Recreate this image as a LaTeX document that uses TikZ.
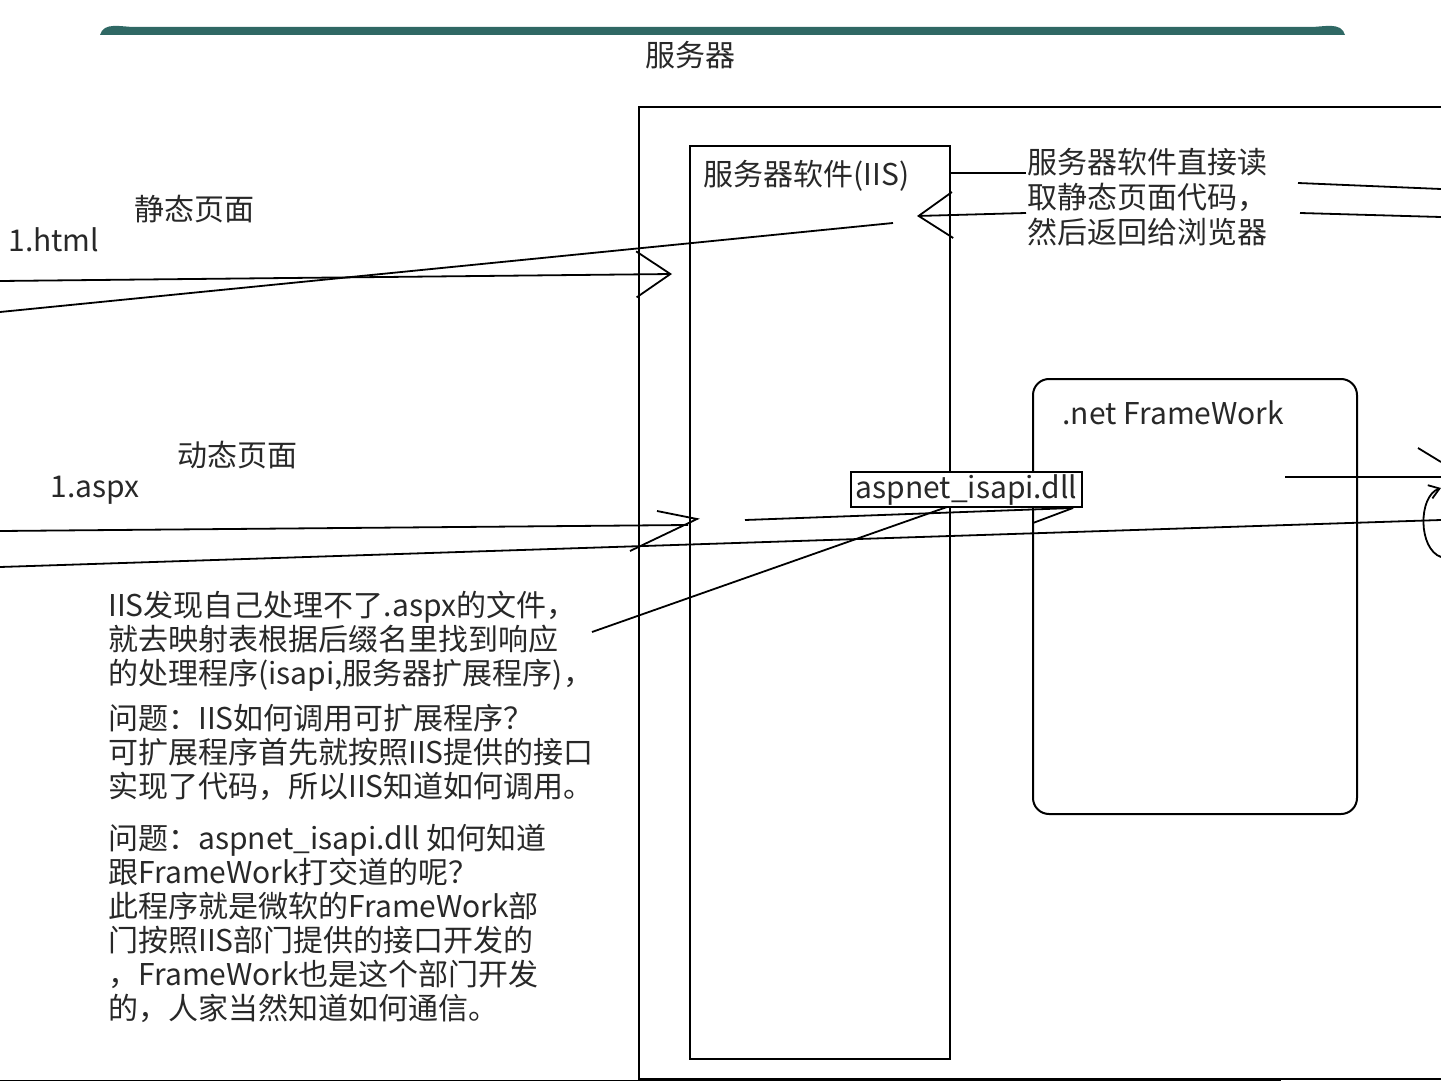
\documentclass[tikz,border=0pt]{standalone}
\usepackage{fontspec}
\setmainfont{Noto Sans CJK SC}
\usetikzlibrary{positioning,arrows.meta}
\definecolor{barteal}{RGB}{47,104,100}
\definecolor{inkgray}{RGB}{40,40,40}
\tikzset{
  boxline/.style={draw=black,line width=1pt,inner sep=0pt},
  wire/.style={draw=black,line width=0.9pt},
  note/.style={font=\fontsize{15pt}{17pt}\selectfont,text=inkgray,align=left,inner sep=0pt},
  barb/.style={-{Straight Barb[length=17pt,width=23pt,line width=0.9pt]}},
}
\begin{document}
\begin{tikzpicture}[x=0.5pt,y=-0.5pt]
\useasboundingbox (0,0) rectangle (1441,1081);
% header bar
\fill[barteal] (100,35) to[out=75,in=180] (135,27) -- (1310,27) to[out=0,in=105] (1345,35) -- cycle;
\node[note] (title) at (690,55) {服务器};

% server, IIS, framework
\node[boxline,anchor=north west,minimum width=430pt,minimum height=486pt] (server) at (638,106) {};
\node[boxline,anchor=north west,minimum width=130pt,minimum height=456.5pt] (iis) at (689,145) {};
\node[boxline,anchor=north west,rounded corners=8pt,minimum width=162pt,minimum height=217.5pt] (netfw) at (1032,378) {};
\node[note,anchor=west] (iislbl) at (703,176) {服务器软件(IIS)};
\node[note,anchor=west] (fwlbl) at (1062,413) {.net FrameWork};
\node[boxline,note,fill=white,minimum width=115.5pt,minimum height=17.5pt] (dll) at (966.5,489.5) {aspnet\_isapi.dll};

% pages
\node[note] (statlbl) at (194,209) {静态页面};
\node[note,anchor=west] (html) at (8,240) {1.html};
\node[note] (dynlbl) at (237,455) {动态页面};
\node[note,anchor=west] (aspx) at (50,490) {1.aspx};

% notes
\node[note,font=\fontsize{15pt}{17.5pt}\selectfont,anchor=west] (readnote) at (1027,197)
  {服务器软件直接读\\取静态页面代码，\\然后返回给浏览器};
\node[note,anchor=west] (note1) at (108,641)
  {IIS发现自己处理不了.aspx的文件，\\就去映射表根据后缀名里找到响应\\的处理程序(isapi,服务器扩展程序)，};
\node[note,anchor=west] (note2) at (108,752)
  {问题：IIS如何调用可扩展程序？\\可扩展程序首先就按照IIS提供的接口\\实现了代码，所以IIS知道如何调用。};
\node[note,anchor=west] (note3) at (108,923)
  {问题：aspnet\_isapi.dll 如何知道\\跟FrameWork打交道的呢？\\此程序就是微软的FrameWork部\\门按照IIS部门提供的接口开发的\\，FrameWork也是这个部门开发\\的，人家当然知道如何通信。};

% static page request / response
\coordinate (sreqL) at (0,281);
\coordinate (sreqR) at (672,274);
\coordinate (sresR) at (893,223);
\coordinate (sresL) at (0,312);
\draw[wire,barb] (sreqL) -- (sreqR);
\draw[wire] (sresR) -- (sresL);
\coordinate (rdA) at (1026,213);
\coordinate (rdB) at (917,216);
\coordinate (readtip) at (1026,173);
\draw[wire,barb] (rdA) -- (rdB);
\draw[wire] (iis.east |- readtip) -- (readtip);
\coordinate (brA) at (1298,183);
\coordinate (brB) at (1441,189);
\coordinate (brC) at (1300,213);
\coordinate (brD) at (1441,217);
\draw[wire] (brA) -- (brB);
\draw[wire] (brC) -- (brD);

% dynamic page request / response
\coordinate (dreqL) at (0,531);
\coordinate (dreqR) at (688,525);
\draw[wire] (dreqL) -- (dreqR);
\draw[wire] (657,511) -- (697,519) -- (630,551);
\coordinate (dllsrc) at (745,520);
\coordinate (dllin) at (1073,508);
\draw[wire] (dllsrc) -- (dllin);
\draw[wire] (1033,523) -- (dllin);
\coordinate (dresR) at (1441,520);
\coordinate (dresL) at (0,567);
\draw[wire] (dresR) -- (dresL);
\coordinate (ldr) at (592,632);
\coordinate (dllbot) at (947,507);
\draw[wire] (ldr) -- (dllbot);
\coordinate (fwout) at (1285,477);
\coordinate (fwedge) at (1441,477);
\draw[wire] (fwout) -- (fwedge);
\draw[wire,-{Straight Barb[length=5pt,width=7pt]}] (1441,557) .. controls (1418,549) and (1418,496) .. (1441,488);
\draw[wire] (1418,448) -- (1441,462);

% page edge
\coordinate (edgeL) at (0,1080);
\coordinate (edgeR) at (1281,1080);
\draw[line width=0.5pt] (edgeL) -- (edgeR);
\end{tikzpicture}
\end{document}
